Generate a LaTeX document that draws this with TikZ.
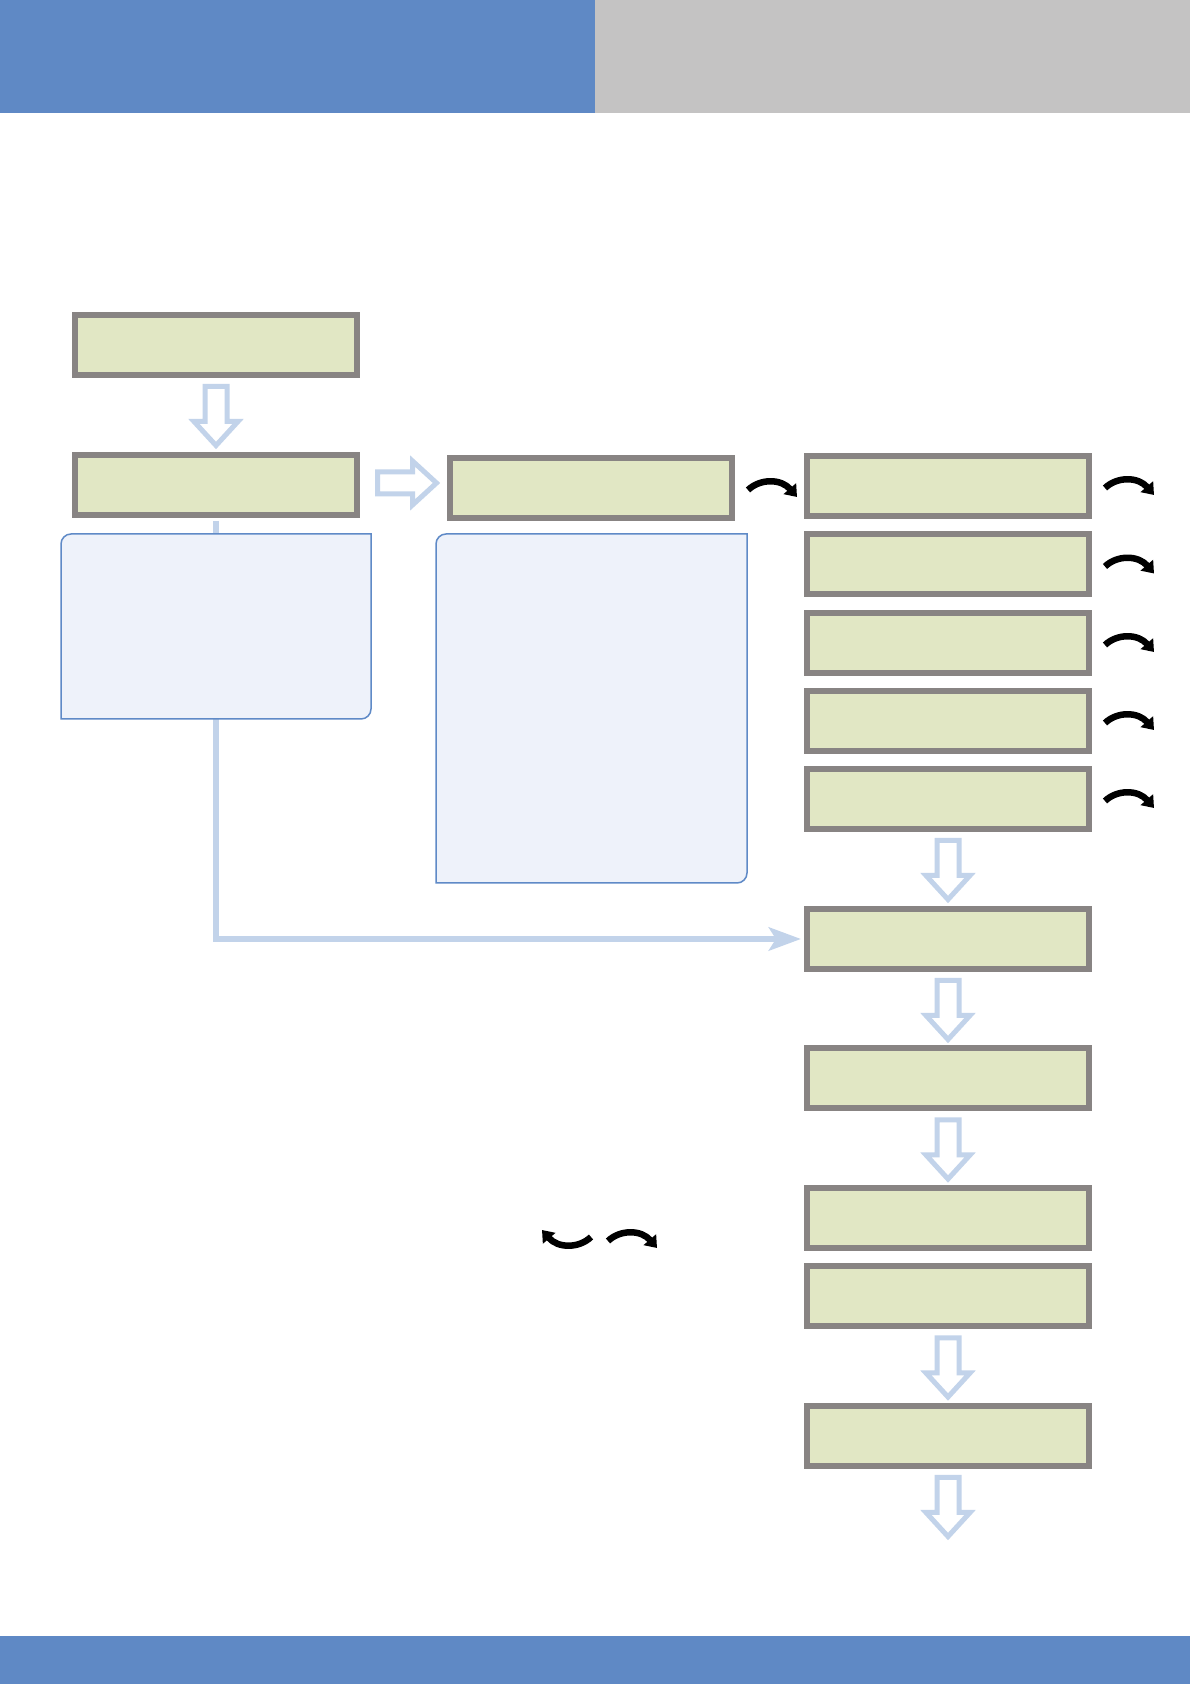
\documentclass[tikz,border=0pt]{standalone}
\usepackage{tikz}
\usetikzlibrary{arrows.meta}
\definecolor{barblue}{RGB}{95,137,197}
\definecolor{bargray}{RGB}{196,195,195}
\definecolor{boxfill}{RGB}{225,231,196}
\definecolor{boxline}{RGB}{136,132,131}
\definecolor{notefill}{RGB}{238,242,250}
\definecolor{noteline}{RGB}{95,138,199}
\definecolor{flow}{RGB}{194,211,234}

\begin{document}
\begin{tikzpicture}[x=1pt,y=1pt,
    stage/.style={draw=boxline,fill=boxfill,line width=6pt,minimum width=282pt,minimum height=60pt,inner sep=0pt},
    note/.style={draw=noteline,fill=notefill,line width=1.5pt},
    hollow/.style={draw=flow,fill=white,line width=5pt},
    link/.style={draw=flow,line width=6.5pt,-{Stealth[length=32pt,width=23pt,inset=7pt]}},
    curl/.style={draw=black,line width=6.5pt,-{Triangle[length=11pt,width=16pt]}}]
            \useasboundingbox (0,0) rectangle (1191,1684);
            % \draw[step=100,color=gray!40] (0,0) grid (1191,1684);
            \fill[white] (0,0) rectangle (1191,1684);
            \fill[barblue] (0,1571) rectangle (595,1684);
            \fill[bargray] (595,1571) rectangle (1190,1684);
            \fill[barblue] (0,0) rectangle (1190,48);
            \foreach \x/\y/\name in {216/1339/B1,216/1199/B2,591/1196/B3,948/1198/R1,948/1119.5/R2,948/1041/R3,948/963/R4,948/885/R5,948/745/R6,948/605.5/R7,948/466/R8,948/387.5/R9,948/248/R10}{
                \node[stage,name=\name] at (\x,\y) {};
            }
            \draw[link,shorten <=3pt,shorten >=3pt] (B2.south) |- (R6.west);
            \draw[note] (61,965) -- (61,1140) arc[start angle=180,end angle=90,radius=10] -- (371,1150) -- (371,975) arc[start angle=0,end angle=-90,radius=10] -- cycle;
            \draw[note] (436,801) -- (436,1140) arc[start angle=180,end angle=90,radius=10] -- (747,1150) -- (747,811) arc[start angle=0,end angle=-90,radius=10] -- cycle;
            \foreach \from in {B1,R5,R6,R7,R9,R10} {
                \draw[hollow,shift={(\from.south)}] (-11,-8.5) -- (11,-8.5) -- (11,-43.5) -- (22,-43.5) -- (0,-67.5) -- (-22,-43.5) -- (-11,-43.5) -- cycle;
            }
            \draw[hollow,shift={(B2.east)}] (17.5,-9) -- (17.5,13) -- (52.5,13) -- (52.5,24) -- (76.5,2) -- (52.5,-20) -- (52.5,-9) -- cycle;
            \foreach \from in {B3,R1,R2,R3,R4,R5} {
                \draw[curl,shift={(\from.east)}] (13,-2) .. controls (25,9.5) and (46,9.5) .. (62,-9);
            }
            \coordinate (sym) at (600,445);
            \draw[curl,shift={(sym)},rotate=180] (9,-2) .. controls (21,9.5) and (42,9.5) .. (58,-9);
            \draw[curl,shift={(sym)}] (8,-2) .. controls (20,9.5) and (41,9.5) .. (57,-9);
        \end{tikzpicture}
\end{document}
